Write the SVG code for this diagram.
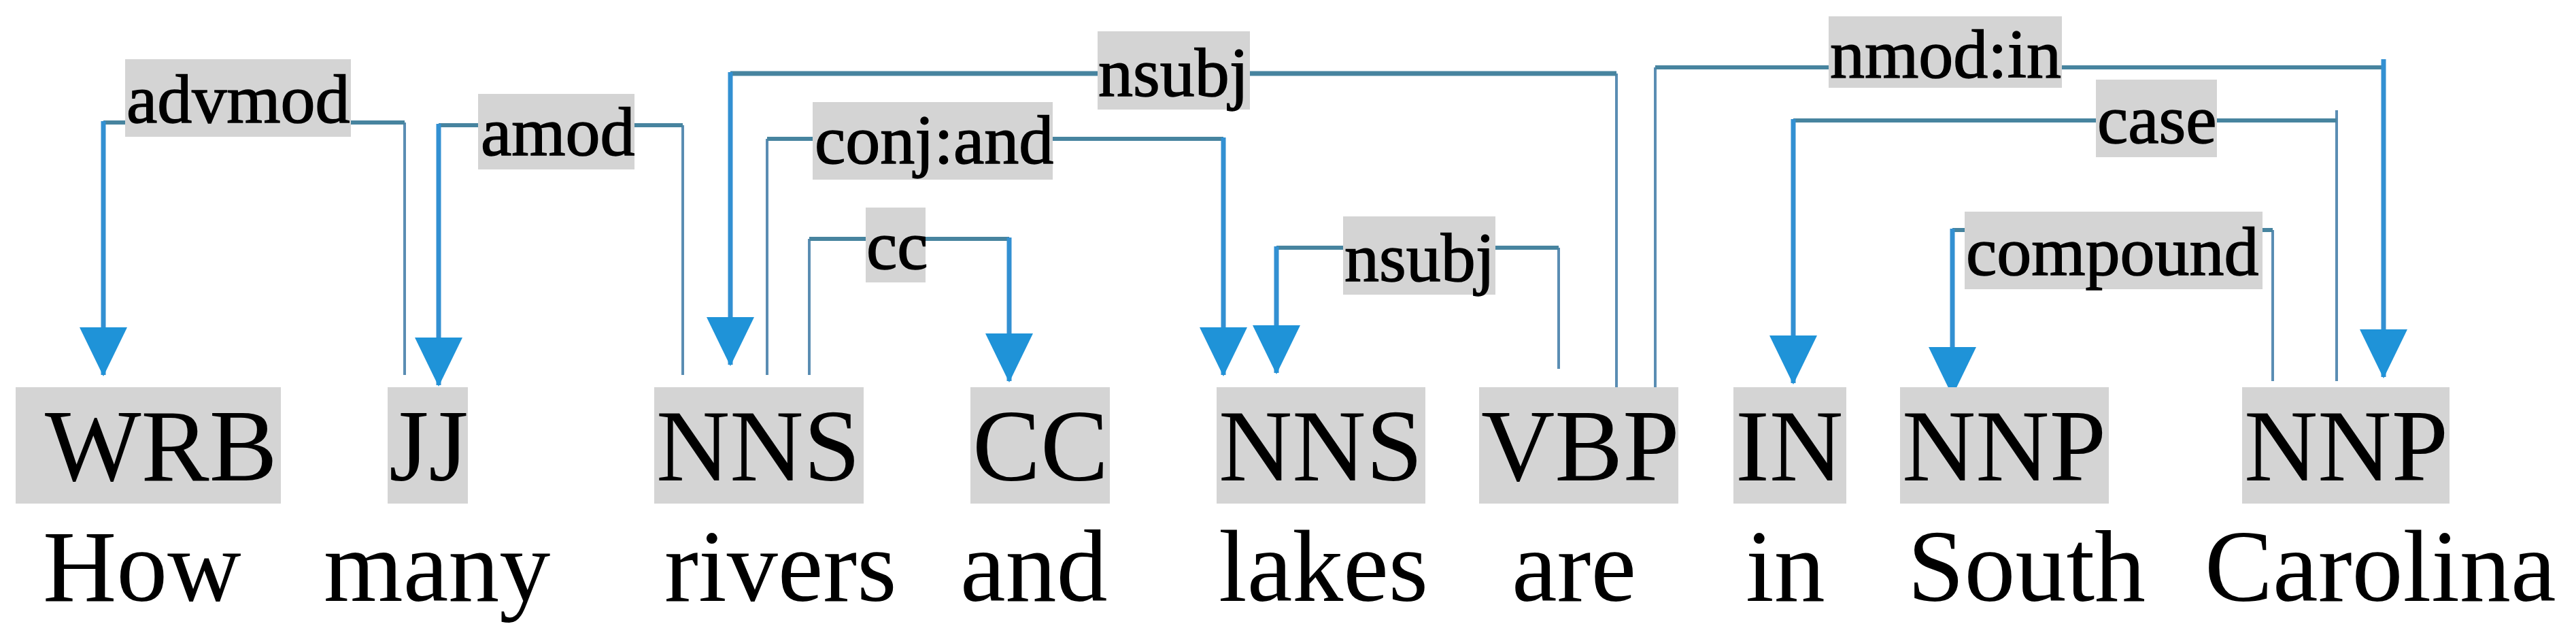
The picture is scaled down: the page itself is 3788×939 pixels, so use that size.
<svg xmlns="http://www.w3.org/2000/svg" width="3788" height="939" viewBox="0 0 3788 939">
<style>
.bg{fill:#ffffff}
.pos{fill:#d4d4d4}
.lbl{fill:#d4d4d4}
.pt{font-family:"Liberation Serif","Times New Roman",serif;font-size:150px;fill:#000}
.wt{font-family:"Liberation Serif","Times New Roman",serif;font-size:150px;fill:#000}
.lt{font-family:"Liberation Serif","Times New Roman",serif;font-size:102px;fill:#000;stroke:#000;stroke-width:1.5}
.src{stroke:#5a8db3;stroke-width:4;fill:none}
.hz{stroke:#47849f;stroke-width:6;fill:none}
.stem{stroke:#3290d2;stroke-width:7;fill:none;marker-end:url(#ah)}
</style>
<defs>
<marker id="ah" markerUnits="userSpaceOnUse" markerWidth="72" markerHeight="70" refX="70" refY="35" orient="auto">
<path d="M0,0 L72,35 L0,70 Z" fill="#1f93d8"/>
</marker>
</defs>
<rect class="bg" x="0" y="0" width="3788" height="939"/>

<g id="connectors">
<g id="e-advmod">
<path class="src" d="M595,551 V180"/>
<path class="hz" d="M595,180 H152"/>
<path class="stem" d="M152,178 V551"/>
<rect class="lbl" x="184" y="87" width="332" height="114"/>
<text class="lt" x="186" y="180">advmod</text>
</g>
<g id="e-amod">
<path class="src" d="M1004,551 V184"/>
<path class="hz" d="M1004,184 H645"/>
<path class="stem" d="M645,182 V566"/>
<rect class="lbl" x="703" y="138" width="230" height="111"/>
<text class="lt" x="707" y="228">amod</text>
</g>
<g id="e-nsubj1">
<path class="src" d="M2377,578 V108"/>
<path class="hz" d="M2377,108 H1074" style="stroke-width:7"/>
<path class="stem" d="M1074,106 V536"/>
<rect class="lbl" x="1614" y="46" width="224" height="115"/>
<text class="lt" x="1615" y="141">nsubj</text>
</g>
<g id="e-conj">
<path class="src" d="M1128,551 V204"/>
<path class="hz" d="M1128,204 H1799"/>
<path class="stem" d="M1799,202 V551"/>
<rect class="lbl" x="1195" y="150" width="353" height="114"/>
<text class="lt" x="1198" y="240">conj:and</text>
</g>
<g id="e-cc">
<path class="src" d="M1190,551 V351"/>
<path class="hz" d="M1190,351 H1484"/>
<path class="stem" d="M1484,349 V560"/>
<rect class="lbl" x="1273" y="305" width="88" height="110"/>
<text class="lt" x="1274" y="395">cc</text>
</g>
<g id="e-nsubj2">
<path class="src" d="M2292,542 V364"/>
<path class="hz" d="M2292,364 H1877"/>
<path class="stem" d="M1877,362 V548"/>
<rect class="lbl" x="1975" y="318" width="224" height="115"/>
<text class="lt" x="1977" y="413">nsubj</text>
</g>
<g id="e-nmod">
<path class="src" d="M2434,575 V99"/>
<path class="hz" d="M2434,99 H3505"/>
<path class="stem" d="M3505,87 V554"/>
<rect class="lbl" x="2689" y="24" width="343" height="105"/>
<text class="lt" x="2691" y="114">nmod:in</text>
</g>
<g id="e-case">
<path class="src" d="M3436,560 V162"/>
<path class="hz" d="M3436,177 H2637"/>
<path class="stem" d="M2637,175 V563"/>
<rect class="lbl" x="3082" y="117" width="178" height="114"/>
<text class="lt" x="3084" y="210">case</text>
</g>
<g id="e-compound">
<path class="src" d="M3342,560 V338"/>
<path class="hz" d="M3342,338 H2871"/>
<path class="stem" d="M2871,336 V580"/>
<rect class="lbl" x="2889" y="311" width="438" height="114"/>
<text class="lt" x="2891" y="404">compound</text>
</g>
</g>

<g id="n-how"><rect class="pos" x="23" y="569" width="390" height="171"/><text class="pt" x="66" y="706">WRB</text><text class="wt" x="63" y="883">How</text></g>
<g id="n-many"><rect class="pos" x="570" y="569" width="118" height="171"/><text class="pt" x="572" y="706">JJ</text><text class="wt" x="476" y="883">many</text></g>
<g id="n-rivers"><rect class="pos" x="962" y="569" width="308" height="171"/><text class="pt" x="965" y="706">NNS</text><text class="wt" x="977" y="883">rivers</text></g>
<g id="n-and"><rect class="pos" x="1427" y="569" width="205" height="171"/><text class="pt" x="1430" y="706">CC</text><text class="wt" x="1412" y="883">and</text></g>
<g id="n-lakes"><rect class="pos" x="1789" y="569" width="307" height="171"/><text class="pt" x="1792" y="706">NNS</text><text class="wt" x="1792" y="883">lakes</text></g>
<g id="n-are"><rect class="pos" x="2175" y="569" width="293" height="171"/><text class="pt" x="2178" y="706">VBP</text><text class="wt" x="2223" y="883">are</text></g>
<g id="n-in"><rect class="pos" x="2549" y="569" width="166" height="171"/><text class="pt" x="2552" y="706">IN</text><text class="wt" x="2567" y="883">in</text></g>
<g id="n-south"><rect class="pos" x="2794" y="569" width="307" height="171"/><text class="pt" x="2797" y="706">NNP</text><text class="wt" x="2805" y="883">South</text></g>
<g id="n-carolina"><rect class="pos" x="3297" y="569" width="305" height="171"/><text class="pt" x="3300" y="706">NNP</text><text class="wt" x="3242" y="883">Carolina</text></g>
</svg>
